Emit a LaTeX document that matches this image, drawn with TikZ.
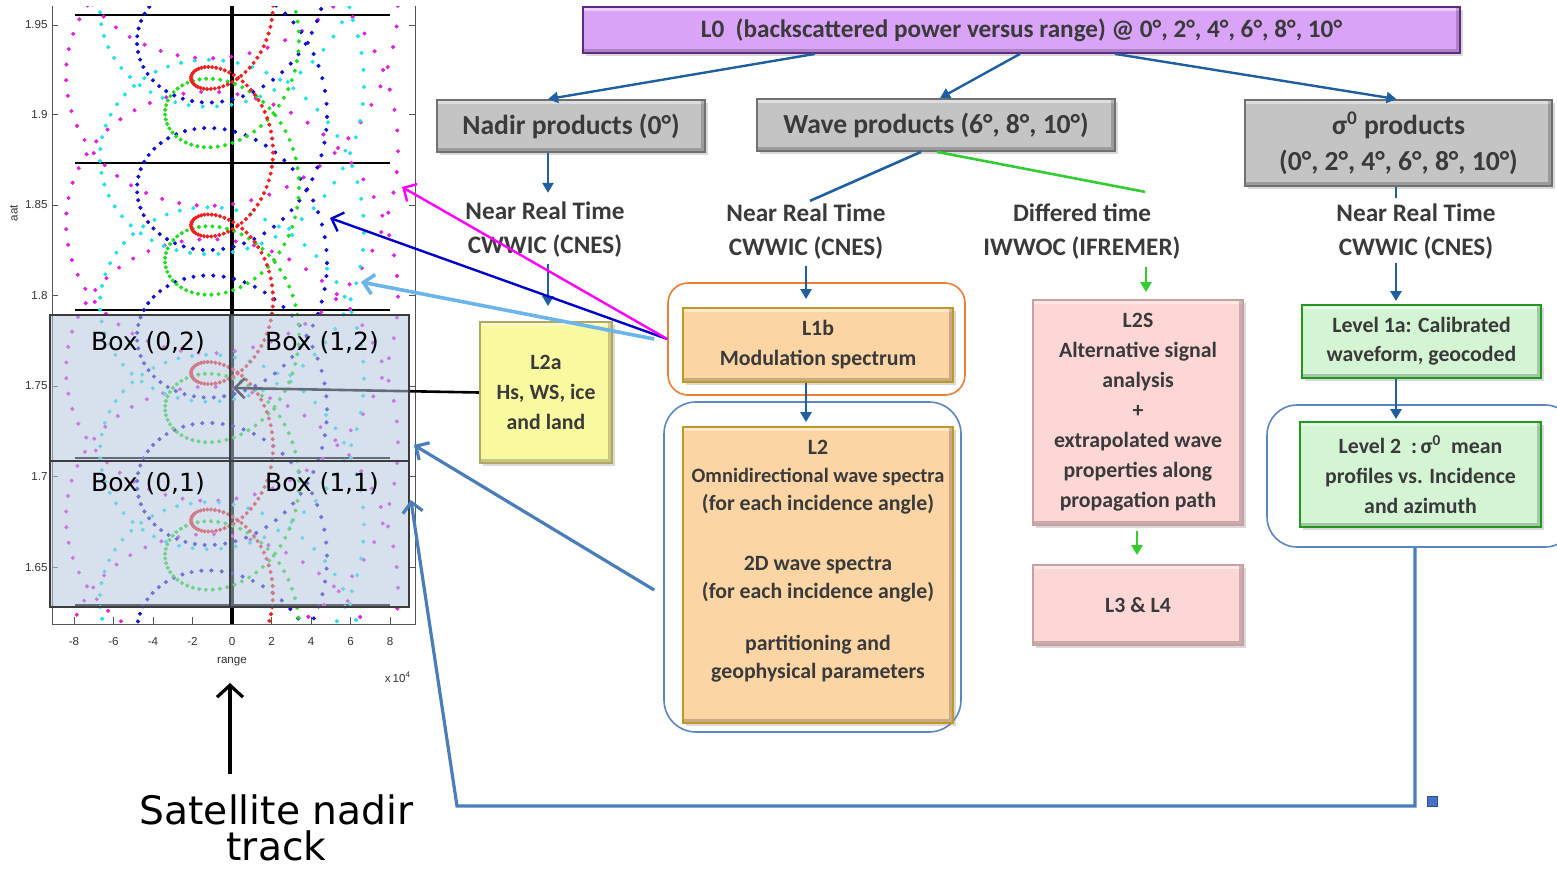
\documentclass[tikz,border=0pt]{standalone}
\usepackage{fontspec}
\setmainfont{Carlito}
\newfontfamily\dejavu{DejaVu Sans}
\newfontfamily\axfont{Liberation Sans}
\usetikzlibrary{arrows.meta,shadows}
\pgfdeclarelayer{back}
\pgfdeclarelayer{mid}
\pgfsetlayers{back,mid,main}
\newcommand\fcBody{\bfseries\fontsize{10.9}{15}\selectfont}
\newcommand\fcTitle{\bfseries\fontsize{13.8}{18}\selectfont}
\newcommand\fcMid{\bfseries\fontsize{12.6}{17}\selectfont}
\newcommand\fcAx{\axfont\fontsize{5.8}{6.5}\selectfont}
\definecolor{txtgray}{HTML}{3A3A3A}
\definecolor{arrblue}{HTML}{1F5FA0}
\definecolor{steel}{HTML}{4A7EBB}
\definecolor{lgreen}{HTML}{33CC33}
\definecolor{purfill}{HTML}{D9A4F7}
\definecolor{purdraw}{HTML}{5E2A86}
\definecolor{grayfill}{HTML}{C4C4C4}
\definecolor{graydraw}{HTML}{707070}
\definecolor{yelfill}{HTML}{F9F99F}
\definecolor{yeldraw}{HTML}{B0A860}
\definecolor{orfill}{HTML}{FCD5A5}
\definecolor{ordraw}{HTML}{C09A20}
\definecolor{pkfill}{HTML}{FDD6D6}
\definecolor{pkdraw}{HTML}{C8A0A0}
\definecolor{gnfill}{HTML}{D3F5D3}
\definecolor{gndraw}{HTML}{1E9A1E}
\definecolor{grporange}{HTML}{ED7D31}
\definecolor{grpblue}{HTML}{5B87C0}
\definecolor{boxfill}{RGB}{182,200,224}
\definecolor{boxdraw}{HTML}{3C3C3C}
\definecolor{dred}{HTML}{F02020}
\definecolor{dgreen}{HTML}{20DD20}
\definecolor{dblue}{HTML}{1010D0}
\definecolor{dcyan}{HTML}{20E0E8}
\definecolor{dmag}{HTML}{E020E0}
\definecolor{lblue}{HTML}{6AB6EA}
\definecolor{mag}{HTML}{FF00FF}
\definecolor{pureblue}{HTML}{0000CC}
\definecolor{sqblue}{HTML}{4472C4}
\definecolor{sqdraw}{HTML}{2F4F8F}
\definecolor{axgray}{HTML}{555555}
\definecolor{axtext}{HTML}{333333}
\tikzset{
 bevel/.style={path picture={
   \fill[white,opacity=.45] (path picture bounding box.north west) rectangle ([yshift=-2.2pt]path picture bounding box.north east);
   \fill[black,opacity=.2] ([yshift=2.2pt]path picture bounding box.south west) rectangle (path picture bounding box.south east);
   \fill[black,opacity=.2] ([xshift=-2.2pt]path picture bounding box.north east) rectangle ([yshift=2.2pt]path picture bounding box.south east);
 }},
 fbox/.style={rectangle, inner sep=0pt, align=center, text=txtgray, line width=0.9pt, bevel,
   drop shadow={opacity=0.3, shadow xshift=1.3pt, shadow yshift=-1.3pt}, font=\fcBody},
 grp/.style={rectangle, inner sep=0pt, line width=0.8pt, fill=none},
 txt/.style={inner sep=0pt, align=center, text=txtgray, font=\fcBody},
 mtxt/.style={inner sep=0pt, align=center, text=txtgray, font=\fcMid},
 farrow/.style={draw=arrblue, line width=1.2pt, -{Triangle[length=5pt,width=5.5pt]}},
 fline/.style={draw=arrblue, line width=1.3pt},
 garrow/.style={draw=lgreen, line width=1.2pt, -{Triangle[length=5pt,width=5.5pt]}},
 gline/.style={draw=lgreen, line width=1.3pt},
 barb/.style={-{Straight Barb[length=5pt,width=10pt]}},
 pbox/.style={rectangle, inner sep=0pt, draw=boxdraw, line width=0.9pt, fill=boxfill, fill opacity=0.55, minimum height=73pt},
 blbl/.style={inner sep=0pt, font=\dejavu\fontsize{12.5}{14}\selectfont, text=black},
 axl/.style={draw=axgray, line width=0.5pt},
 axlbl/.style={inner sep=0pt, font=\fcAx, text=axtext},
}
\begin{document}
\begin{tikzpicture}[x=0.5pt,y=-0.5pt]
\useasboundingbox (0,0) rectangle (1557,873);
\clip (0,0) rectangle (1557,873);

% ---------------- plot (back layer) ----------------
\begin{pgfonlayer}{back}
 \draw[axl] (52,6) -- (52,624) -- (415,624) -- (415,6);
 \foreach \v/\yy [count=\i] in {1.95/25,1.9/114.5,1.85/205,1.8/295.5,1.75/386,1.7/476.5,1.65/567}{
   \draw[axl] (52,\yy) -- (58,\yy);
   \draw[axl] (415,\yy) -- (409,\yy);
   \node[axlbl, anchor=east] (yl\i) at (48,\yy) {\v};
 }
 \foreach \v/\xx [count=\i] in {-8/74,-6/113.5,-4/153,-2/192.5,0/232,2/271.5,4/311,6/350.5,8/390}{
   \draw[axl] (\xx,624) -- (\xx,617);
   \node[axlbl] (xl\i) at (\xx,641) {\v};
 }
 \node[axlbl] (rangelbl) at (232,662) {range};
 \node[axlbl] (x10lbl) at (398,677) {x\,10\textsuperscript{4}};
 \node[axlbl, rotate=90] (aatlbl) at (14,213) {aat};
 \begin{scope}
  \clip (53,6) rectangle (414,624);
  \foreach \yy in {15,162.5,310,457.5,605}{
    \draw[black, line width=1pt] (75,\yy) -- (390,\yy);
  }
  \draw[black, line width=1.7pt] (232,6) -- (232,624);
  \foreach \rad/\tip/\col in {166/75/dmag, 132/157/dcyan, 95/41.5/dblue, 67/113/dgreen, 41/78/dred}{
    \draw[color=\col, line width=0.35pt] plot[variable=\q, domain=-9:37, samples=419, only marks, mark=*, mark size=0.85pt]
      ({232+\rad*cos(\q r)},{\tip+23.475*(\q-pi)+\rad*sin(\q r)});
  }
 \end{scope}
\end{pgfonlayer}

% translucent boxes
\node[pbox, minimum width=90pt] (box02) at (140,388) {};
\node[pbox, minimum width=89.5pt] (box12) at (319.5,388) {};
\node[pbox, minimum width=90pt] (box01) at (140,534) {};
\node[pbox, minimum width=89.5pt] (box11) at (319.5,534) {};
\node[blbl] (lbl02) at (148,343) {Box (0,2)};
\node[blbl] (lbl12) at (322,343) {Box (1,2)};
\node[blbl] (lbl01) at (148,484) {Box (0,1)};
\node[blbl] (lbl11) at (322,484) {Box (1,1)};

% ---------------- flowchart ----------------
\node[fbox, fill=purfill, draw=purdraw, minimum width=438.5pt, minimum height=23pt, font=\bfseries\fontsize{12.6}{14}\selectfont] (L0) at (1021.5,30)
  {L0\ \ (backscattered power versus range) @ 0°, 2°, 4°, 6°, 8°, 10°};
\node[fbox, fill=grayfill, draw=graydraw, minimum width=134pt, minimum height=26pt, font=\fcTitle] (nadir) at (571,126) {Nadir products (0°)};
\node[fbox, fill=grayfill, draw=graydraw, minimum width=179pt, minimum height=26pt, font=\fcTitle] (wave) at (936,125) {Wave products (6°, 8°, 10°)};
\node[fbox, fill=grayfill, draw=graydraw, minimum width=153.5pt, minimum height=43pt, font=\fcTitle] (sigma) at (1398.5,143)
  {σ\textsuperscript{0} products\\(0°, 2°, 4°, 6°, 8°, 10°)};

\node[mtxt] (nrt1) at (545,230) {Near Real Time\\CWWIC (CNES)};
\node[mtxt] (nrt2) at (806,232) {Near Real Time\\CWWIC (CNES)};
\node[mtxt] (dt) at (1082,232) {Differed time\\IWWOC (IFREMER)};
\node[mtxt] (nrt3) at (1416,232) {Near Real Time\\CWWIC (CNES)};

\node[grp, draw=grporange, rounded corners=10pt, minimum width=148.5pt, minimum height=56pt] (L1bgrp) at (816.5,339) {};
\node[grp, draw=grpblue, rounded corners=16pt, minimum width=148.5pt, minimum height=165pt] (L2grp) at (812.5,567) {};
\node[grp, draw=grpblue, rounded corners=15pt, minimum width=154pt, minimum height=71pt] (lev2grp) at (1421,476) {};

\node[fbox, fill=yelfill, draw=yeldraw, minimum width=66pt, minimum height=70.5pt] (L2a) at (546,392.5) {L2a\\Hs, WS, ice\\and land};
\node[fbox, fill=orfill, draw=ordraw, minimum width=135pt, minimum height=37pt] (L1b) at (818,345) {L1b\\Modulation spectrum};
\node[fbox, fill=orfill, draw=ordraw, minimum width=135pt, minimum height=148pt] (L2) at (818,575) {};
\node[txt, font=\bfseries\fontsize{10.9}{14}\selectfont] (L2t) at ([yshift=7pt]L2.center)
  {L2\\{\fontsize{10.2}{14}\selectfont Omnidirectional wave spectra}\\(for each incidence angle)\\[16pt]2D wave spectra\\(for each incidence angle)\\[12pt]partitioning and\\geophysical parameters};
\node[fbox, fill=pkfill, draw=pkdraw, minimum width=105pt, minimum height=112.5pt] (L2S) at (1138,412.5)
  {L2S\\Alternative signal\\analysis\\+\\extrapolated wave\\properties along\\propagation path};
\node[fbox, fill=pkfill, draw=pkdraw, minimum width=105pt, minimum height=40pt] (L34) at (1138,605) {L3 \& L4};
\node[fbox, fill=gnfill, draw=gndraw, minimum width=119.5pt, minimum height=36.5pt, font=\bfseries\fontsize{10.9}{14.5}\selectfont] (lev1a) at (1421.5,341.5)
  {Level 1a: Calibrated\\waveform, geocoded};
\node[fbox, fill=gnfill, draw=gndraw, minimum width=120.5pt, minimum height=52.5pt] (lev2) at (1420.5,474.5)
  {Level 2\ \ :\,σ\textsuperscript{0}\ \ mean\\profiles vs. Incidence\\and azimuth};

% flowchart connectors
\draw[farrow] ([xshift=-103.25pt]L0.south) -- ([xshift=-11.5pt]nadir.north);
\draw[farrow] ([xshift=-0.75pt]L0.south) -- ([xshift=2pt]wave.north);
\draw[farrow] ([xshift=46.75pt]L0.south) -- ([xshift=-1pt]sigma.north);
\draw[farrow] ([xshift=-11.5pt]nadir.south) -- ([xshift=1.5pt,yshift=4.5pt]nrt1.north);
\draw[farrow] ([xshift=1.5pt,yshift=-3pt]nrt1.south) -- ([xshift=1pt,yshift=7.5pt]L2a.north);
\draw[fline] ([xshift=-7.5pt]wave.south) -- ([xshift=2pt,yshift=1.5pt]nrt2.north);
\draw[gline] ([xshift=0.5pt]wave.south) -- ([xshift=31.5pt,yshift=6pt]dt.north);
\draw[farrow] ([yshift=-3pt]nrt2.south) -- ([xshift=-6pt,yshift=4pt]L1b.north);
\draw[garrow] ([xshift=32pt,yshift=-3.5pt]dt.south) -- ([xshift=4pt,yshift=3.5pt]L2S.north);
\draw[farrow] ([xshift=-6pt]L1b.south) -- ([xshift=-6pt,yshift=2pt]L2.north);
\draw[garrow] ([xshift=-0.5pt,yshift=-2.5pt]L2S.south) -- ([xshift=-0.5pt,yshift=4.5pt]L34.north);
\draw[fline] ([xshift=-1.25pt]sigma.south) -- ([xshift=-10pt,yshift=3pt]nrt3.north);
\draw[farrow] ([xshift=-10pt,yshift=-1.5pt]nrt3.south) -- ([xshift=-12.75pt,yshift=1.5pt]lev1a.north);
\draw[farrow] ([xshift=-12.75pt]lev1a.south) -- ([xshift=-12.25pt,yshift=1pt]lev2.north);

% connectors into the plot
\coordinate (bendR) at (1415,806);
\coordinate (bendL) at (457,806);
\draw[steel, line width=1.6pt, barb] ([xshift=-3pt]lev2grp.south) -- (bendR) -- (bendL) -- ([xshift=0.5pt,yshift=17pt]box11.east);
\draw[steel, line width=1.6pt, barb] ([xshift=-4.5pt,yshift=-11.5pt]L2grp.west) -- ([xshift=2pt,yshift=-28.5pt]box12.east);
\node[draw=sqdraw, fill=sqblue, minimum size=5pt, inner sep=0pt, line width=0.4pt] (sq) at (1432,801) {};

\coordinate (magtip) at (402,187);
\coordinate (bltip) at (330,218);
\coordinate (lbtip) at (361,282);
\draw[lblue, line width=1.8pt, barb] ([xshift=-6.5pt]L1bgrp.west) -- (lbtip);
\draw[pureblue, line width=1.2pt, barb] (L1bgrp.west) -- (bltip);
\draw[mag, line width=1.2pt, barb] (L1bgrp.west) -- (magtip);

\begin{pgfonlayer}{mid}
 \draw[black, line width=1.3pt, barb] (L2a.west) -- ([xshift=1pt]box02.east);
\end{pgfonlayer}

% satellite nadir track
\node[inner sep=0pt, align=center, font=\dejavu\fontsize{19.6}{18}\selectfont, text=black] (sat) at (276.5,828) {Satellite nadir\\track};
\coordinate (trackTip) at (230,683);
\draw[black, line width=1.6pt, -{Straight Barb[length=6pt,width=13pt]}] ([xshift=-23.25pt,yshift=10pt]sat.north) -- (trackTip);
\end{tikzpicture}
\end{document}
